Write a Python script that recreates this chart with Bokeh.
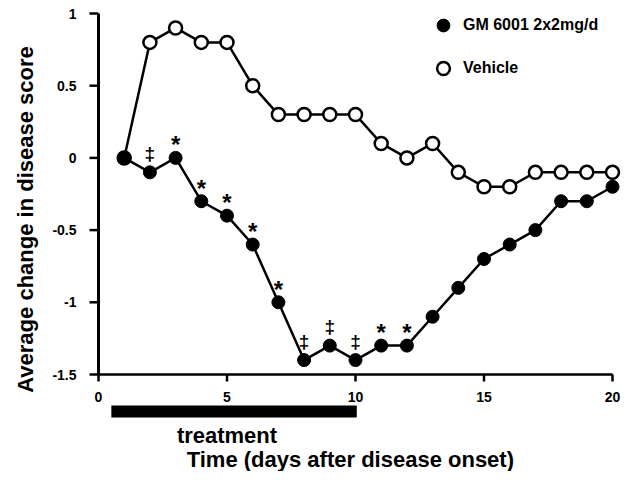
import math
from bokeh.plotting import figure
from bokeh.layouts import row
from bokeh.models import (ColumnDataSource, LinearAxis, FixedTicker, CustomJSTickFormatter,
                          Legend, LegendItem, Range1d)
from bokeh.core.properties import value
from bokeh.embed import file_html
from bokeh.resources import INLINE

# ---- data ----
days = list(range(1, 21))
gm6001 = [0, -0.1, 0, -0.3, -0.4, -0.6, -1.0, -1.4, -1.3, -1.4,
          -1.3, -1.3, -1.1, -0.9, -0.7, -0.6, -0.5, -0.3, -0.3, -0.2]
vehicle = [0, 0.8, 0.9, 0.8, 0.8, 0.5, 0.3, 0.3, 0.3, 0.3,
           0.1, 0, 0.1, -0.1, -0.2, -0.2, -0.1, -0.1, -0.1, -0.1]
sig_days = [2, 3, 4, 5, 6, 7, 8, 9, 10, 11, 12]
sig_marks = ["‡", "*", "*", "*", "*", "*", "‡", "‡", "‡", "*", "*"]
x_ticks = [0, 5, 10, 15, 20]
y_ticks = [-1.5, -1, -0.5, 0, 0.5, 1]
treatment_start, treatment_end = 0.5, 10.05
series_labels = ["GM 6001 2x2mg/d", "Vehicle"]
x_label = "Time (days after disease onset)"
y_label = "Average change in disease score"
treatment_label = "treatment"

FONT = "Liberation Sans"
W_LAB, W_MAIN, H = 44, 578, 471

# ---- left strip holding the rotated y title ----
lab = figure(width=W_LAB, height=H, output_backend="svg", toolbar_location=None,
             x_range=Range1d(0, W_LAB), y_range=Range1d(H, 0),
             x_axis_location=None, y_axis_location=None,
             min_border_left=0, min_border_right=0, min_border_top=0, min_border_bottom=0)
lab.outline_line_color = None
lab.grid.grid_line_color = None
lab.text(x=[25], y=[219], text=[y_label], angle=math.pi / 2, text_font=value(FONT),
         text_font_style="bold", text_font_size="22px", text_align="center",
         text_baseline="middle", text_color="black")

# ---- main plot: frame fills the canvas, axes pinned at x=0 and y=-1.5 ----
PX_X = 25.7
PX_Y = 144.4
x0 = -54 / PX_X
x1 = x0 + W_MAIN / PX_X
y1 = 1 + 13 / PX_Y
y0 = y1 - H / PX_Y

p = figure(width=W_MAIN, height=H, output_backend="svg", toolbar_location=None,
           x_range=Range1d(x0, x1), y_range=Range1d(y0, y1),
           x_axis_location=None, y_axis_location=None,
           min_border_left=0, min_border_right=0, min_border_top=0, min_border_bottom=0)
p.outline_line_color = None
p.grid.grid_line_color = None

xmin, xmax = min(x_ticks), max(x_ticks)
ymin, ymax = min(y_ticks), max(y_ticks)

# axes (tick labels from Bokeh; rule and tick marks drawn as segments on the same scales)
yaxis = LinearAxis(ticker=FixedTicker(ticks=y_ticks),
                   formatter=CustomJSTickFormatter(code="return tick.toString()"),
                   fixed_location=xmin)
xaxis = LinearAxis(ticker=FixedTicker(ticks=x_ticks), fixed_location=ymin)
for ax, tout, sto in ((yaxis, 9, 13), (xaxis, 7, 10)):
    ax.axis_line_color = None
    ax.major_tick_line_color = None
    ax.minor_tick_line_color = None
    ax.major_tick_out = tout
    ax.major_tick_in = 0
    ax.major_label_standoff = sto
    ax.major_label_text_font = FONT
    ax.major_label_text_font_style = "bold"
    ax.major_label_text_font_size = "14px"
    ax.major_label_text_color = "black"
    try:
        ax.background_fill_color = None
    except Exception:
        pass
p.add_layout(yaxis, "left")
p.add_layout(xaxis, "below")

YT = 9 / PX_X   # y tick length (9 px)
XT = 7 / PX_Y   # x tick length (7 px)
for kw in (
    dict(x0=[xmin], y0=[ymin], x1=[xmin], y1=[ymax], line_width=3),
    dict(x0=[xmin], y0=[ymin], x1=[xmax], y1=[ymin], line_width=2.5),
    dict(x0=[xmin] * len(y_ticks), y0=y_ticks, x1=[xmin - YT] * len(y_ticks), y1=y_ticks,
         line_width=2.5),
    dict(x0=x_ticks, y0=[ymin] * len(x_ticks), x1=x_ticks, y1=[ymin - XT] * len(x_ticks),
         line_width=2.5),
):
    p.segment(line_color="black", level="overlay", **kw)

src = ColumnDataSource(dict(day=days, gm=gm6001, veh=vehicle))
p.line("day", "veh", source=src, line_color="black", line_width=2.5)
p.line("day", "gm", source=src, line_color="black", line_width=2.5)
r_veh = p.scatter("day", "veh", source=src, size=13, fill_color="white",
                  line_color="black", line_width=2.5)
r_gm = p.scatter("day", "gm", source=src, size=13, fill_color="black", line_color="black")

# significance marks above the GM 6001 points
gm_by_day = dict(zip(days, gm6001))
for mark, size, off in (("*", "24px", -13), ("‡", "19px", -19)):
    sel = [d for d, m in zip(sig_days, sig_marks) if m == mark]
    p.text(x=sel, y=[gm_by_day[d] for d in sel], text=[mark] * len(sel),
           text_font=value(FONT), text_font_style="bold", text_font_size=size,
           text_align="center", text_baseline="middle", y_offset=off, text_color="black")

# treatment bar and the texts under the axis
p.quad(left=[treatment_start], right=[treatment_end], bottom=[-1.7978], top=[-1.7147],
       fill_color="black", line_color=None)
p.text(x=[5.0], y=[-1.9259], text=[treatment_label], text_font=value(FONT),
       text_font_style="bold", text_font_size="22px", text_align="center",
       text_baseline="alphabetic", text_color="black")
p.text(x=[9.8], y=[-2.0852], text=[x_label], text_font=value(FONT),
       text_font_style="bold", text_font_size="22px", text_align="center",
       text_baseline="alphabetic", text_color="black")

legend = Legend(items=[LegendItem(label=series_labels[0], renderers=[r_gm]),
                       LegendItem(label=series_labels[1], renderers=[r_veh])],
                location=(383, 387), orientation="vertical",
                glyph_width=32, glyph_height=32, label_standoff=4, spacing=11,
                padding=0, margin=0, border_line_color=None, background_fill_alpha=0,
                label_text_font=FONT, label_text_font_style="bold",
                label_text_font_size="16px", label_text_color="black")
p.add_layout(legend, "center")

layout = row(lab, p)
open("out.html", "w").write(file_html(layout, INLINE))
